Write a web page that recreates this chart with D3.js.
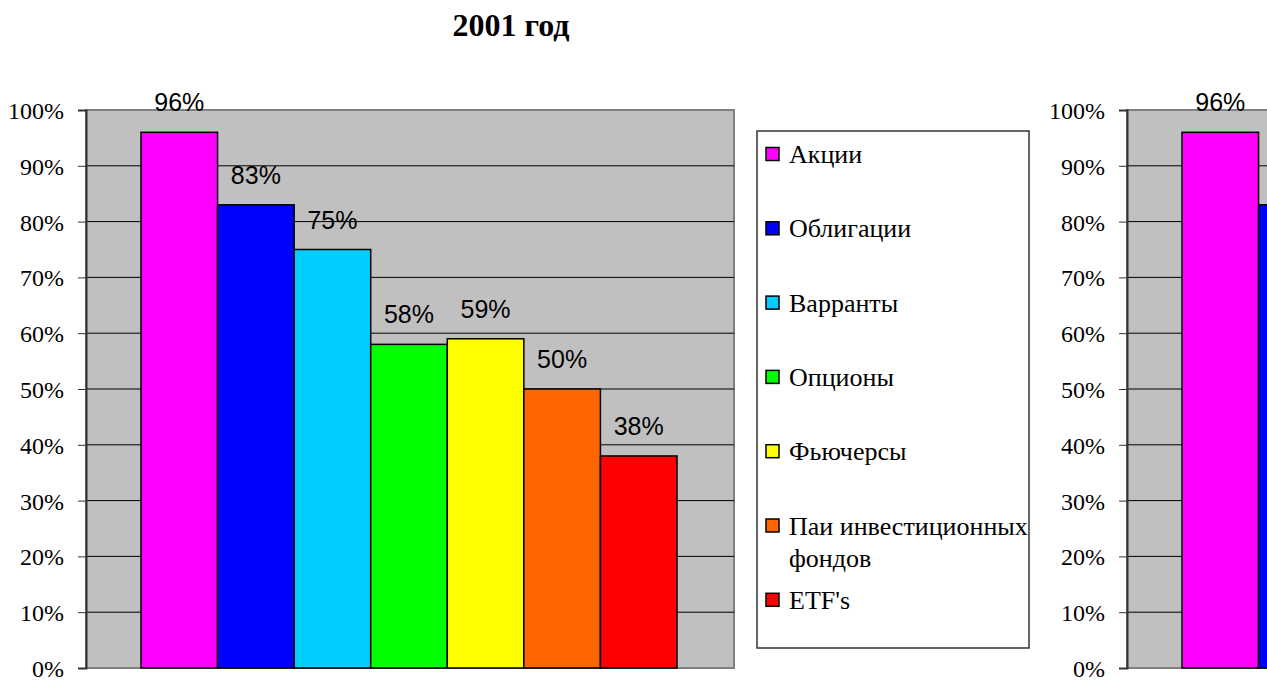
<!DOCTYPE html>
<html>
<head>
<meta charset="utf-8">
<script src="https://cdn.jsdelivr.net/npm/d3@7"></script>
<style>
  body { margin: 0; background: #fff; }
  svg { display: block; }
</style>
</head>
<body>
<svg id="chart"></svg>
<script>
// data
const titleText = "2001 год";
const seriesNames = ["Акции", "Облигации", "Варранты", "Опционы", "Фьючерсы", "Паи инвестиционных фондов", "ETF's"];
const legendLines = [["Акции"], ["Облигации"], ["Варранты"], ["Опционы"], ["Фьючерсы"], ["Паи инвестиционных", "фондов"], ["ETF's"]];
const seriesColors = ["#FF00FF", "#0000FF", "#00CCFF", "#00FF00", "#FFFF00", "#FF6600", "#FF0000"];
const values2001 = [96, 83, 75, 58, 59, 50, 38];
// second chart is cut off at the right edge, only first two bars visible
const valuesNext = [96, 83];
const yTicks = [0, 10, 20, 30, 40, 50, 60, 70, 80, 90, 100];

var svgWidth = 1267;
var svgHeight = 680;

var svg = d3.select("#chart")
    .attr("width", svgWidth)
    .attr("height", svgHeight);

svg.append("text")
    .attr("x", 511)
    .attr("y", 36)
    .attr("text-anchor", "middle")
    .attr("font-family", "Liberation Serif, Times New Roman, serif")
    .attr("font-weight", "bold")
    .attr("font-size", 32)
    .text(titleText);

function drawPanel(dx, values) {
    var left = 86, right = 734, top = 110, bottom = 668;

    var g = svg.append("g")
        .attr("transform", "translate(" + dx + ",0)");

    var y = d3.scaleLinear()
        .domain([0, 100])
        .range([bottom, top]);

    var x = d3.scaleBand()
        .domain(seriesNames)
        .range([left + 55, right - 57])
        .paddingInner(0);

    g.append("rect")
        .attr("x", left)
        .attr("y", top)
        .attr("width", right - left)
        .attr("height", bottom - top)
        .attr("fill", "#C0C0C0")
        .attr("stroke", "#808080")
        .attr("stroke-width", 2);

    g.selectAll(".grid")
        .data(yTicks.filter(function(t) { return t > 0 && t < 100; }))
        .enter().append("line")
        .attr("x1", left)
        .attr("x2", right)
        .attr("y1", function(d) { return y(d); })
        .attr("y2", function(d) { return y(d); })
        .attr("stroke", "#000")
        .attr("stroke-width", 1);

    var axis = g.append("g")
        .attr("transform", "translate(" + left + ",0)")
        .call(d3.axisLeft(y)
            .tickValues(yTicks)
            .tickSize(8)
            .tickPadding(14)
            .tickFormat(function(d) { return d + "%"; }));
    axis.select(".domain")
        .attr("stroke", "#333")
        .attr("stroke-width", 2);
    axis.selectAll(".tick line")
        .attr("stroke", "#333");
    axis.selectAll(".tick text")
        .attr("fill", "#000")
        .attr("font-family", "Liberation Serif, Times New Roman, serif")
        .attr("font-size", 24)
        .attr("dy", "0.35em");

    var bars = values.map(function(v, i) {
        return { name: seriesNames[i], value: v, color: seriesColors[i] };
    });

    g.selectAll(".bar")
        .data(bars)
        .enter().append("rect")
        .attr("x", function(d) { return x(d.name); })
        .attr("y", function(d) { return y(d.value); })
        .attr("width", x.bandwidth())
        .attr("height", function(d) { return bottom - y(d.value); })
        .attr("fill", function(d) { return d.color; })
        .attr("stroke", "#000")
        .attr("stroke-width", 1.5);

    g.selectAll(".lbl")
        .data(bars)
        .enter().append("text")
        .attr("x", function(d) { return x(d.name) + x.bandwidth() / 2; })
        .attr("y", function(d) { return y(d.value) - 21; })
        .attr("text-anchor", "middle")
        .attr("font-family", "Liberation Sans, Arial, sans-serif")
        .attr("font-size", 25)
        .attr("fill", "#000")
        .text(function(d) { return d.value + "%"; });

    // legend
    var lg = g.append("g");
    lg.append("rect")
        .attr("x", 757)
        .attr("y", 131)
        .attr("width", 272)
        .attr("height", 517)
        .attr("fill", "#fff")
        .attr("stroke", "#333")
        .attr("stroke-width", 1.5);

    var items = lg.selectAll(".item")
        .data(legendLines)
        .enter().append("g")
        .attr("transform", function(d, i) { return "translate(766," + (154 + i * 74.3) + ")"; });

    items.append("rect")
        .attr("x", 0)
        .attr("y", -6.5)
        .attr("width", 13)
        .attr("height", 13)
        .attr("fill", function(d, i) { return seriesColors[i]; })
        .attr("stroke", "#000")
        .attr("stroke-width", 1.5);

    items.each(function(lines) {
        var t = d3.select(this).append("text")
            .attr("font-family", "Liberation Serif, Times New Roman, serif")
            .attr("font-size", 26)
            .attr("fill", "#000");
        lines.forEach(function(s, k) {
            t.append("tspan")
                .attr("x", 23)
                .attr("y", k * 32)
                .attr("dy", "0.35em")
                .text(s);
        });
    });
}

drawPanel(0, values2001);
drawPanel(1041, valuesNext);
</script>
</body>
</html>
